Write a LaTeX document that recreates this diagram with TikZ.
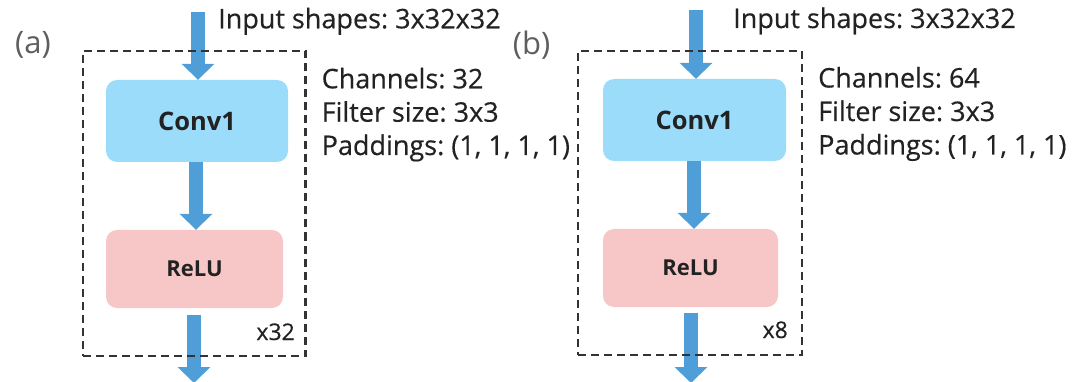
\documentclass[tikz,border=0pt]{standalone}
\usepackage{fontspec}
\setmainfont{Open Sans}
\newfontfamily\infofont{Open Sans}[FakeBold=0.4]
\frenchspacing
\usetikzlibrary{arrows.meta}
\definecolor{arrowblue}{HTML}{4F9ED8}
\definecolor{convfill}{HTML}{9BDCFB}
\definecolor{relufill}{HTML}{F7C6C7}
\definecolor{dashgray}{HTML}{333333}
\definecolor{labelgray}{HTML}{5E5E5E}
\definecolor{txt}{HTML}{222222}
\tikzset{
  flow/.style={draw=arrowblue, line width=14pt, -{Triangle[width=32pt,length=16pt]}, fill=arrowblue},
  convbox/.style={fill=convfill, rounded corners=11pt, minimum width=182pt, minimum height=82pt, inner sep=0pt, font=\bfseries\fontsize{25.5}{30}\selectfont, text=txt},
  relubox/.style={fill=relufill, rounded corners=11pt, minimum width=177pt, minimum height=78pt, inner sep=0pt, font=\bfseries\fontsize{22}{26}\selectfont, text=txt},
  blockframe/.style={draw=dashgray, line width=2.2pt, dash pattern=on 8pt off 5pt, inner sep=0pt},
  info/.style={anchor=base west, inner sep=0pt, font=\infofont\fontsize{27}{32}\selectfont, text=txt},
  rep/.style={anchor=base east, inner sep=0pt, font=\infofont\fontsize{23}{27}\selectfont, text=txt},
  panel/.style={inner sep=0pt, font=\fontsize{31}{36}\selectfont, text=labelgray},
}
\begin{document}
\begin{tikzpicture}[x=1pt,y=-1pt]
\useasboundingbox (0,0) rectangle (1079,382);
% ---------- panel (a)
\node[panel] (la) at (33,45) {(a)};
\node[convbox] (conva) at (197,121) {Conv1};
\node[relubox] (relua) at (194.5,269) {ReLU};
\coordinate (ina) at (198,12);
\coordinate (mida) at (196,0);
\coordinate (outa) at (194,383);
\draw[flow] (ina) -- (ina |- conva.north);
\draw[flow] (mida |- conva.south) -- (mida |- relua.north);
\draw[flow, shorten <=7pt] (outa |- relua.south) -- (outa);
\node[blockframe, minimum width=222.5pt, minimum height=305pt] (framea) at (194.25,203.5) {};
\node[info] (inputa) at (218,28.3) {Input shapes: 3x32x32};
\node[info] (cha) at (321.5,88.3) {Channels: 32};
\node[info] (fia) at (321.5,121.7) {Filter size: 3x3};
\node[info] (paa) at (321.5,155) {Paddings: (1, 1, 1, 1)};
\node[rep] (repa) at (295,340) {x32};
% ---------- panel (b)
\node[panel] (lb) at (531.5,45) {(b)};
\node[convbox, minimum width=183pt] (convb) at (694.5,120) {Conv1};
\node[relubox, minimum width=175pt] (relub) at (690.5,268) {ReLU};
\coordinate (inb) at (696,10);
\coordinate (midb) at (694,0);
\coordinate (outb) at (691,383);
\draw[flow] (inb) -- (inb |- convb.north);
\draw[flow] (midb |- convb.south) -- (midb |- relub.north);
\draw[flow, shorten <=6pt] (outb |- relub.south) -- (outb);
\node[blockframe, minimum width=223.7pt, minimum height=304.3pt] (frameb) at (689.9,202.9) {};
\node[info] (inputb) at (733,28) {Input shapes: 3x32x32};
\node[info] (chb) at (818,87.5) {Channels: 64};
\node[info] (fib) at (818,121) {Filter size: 3x3};
\node[info] (pab) at (818,154.5) {Paddings: (1, 1, 1, 1)};
\node[rep] (repb) at (788,338) {x8};
\end{tikzpicture}
\end{document}
